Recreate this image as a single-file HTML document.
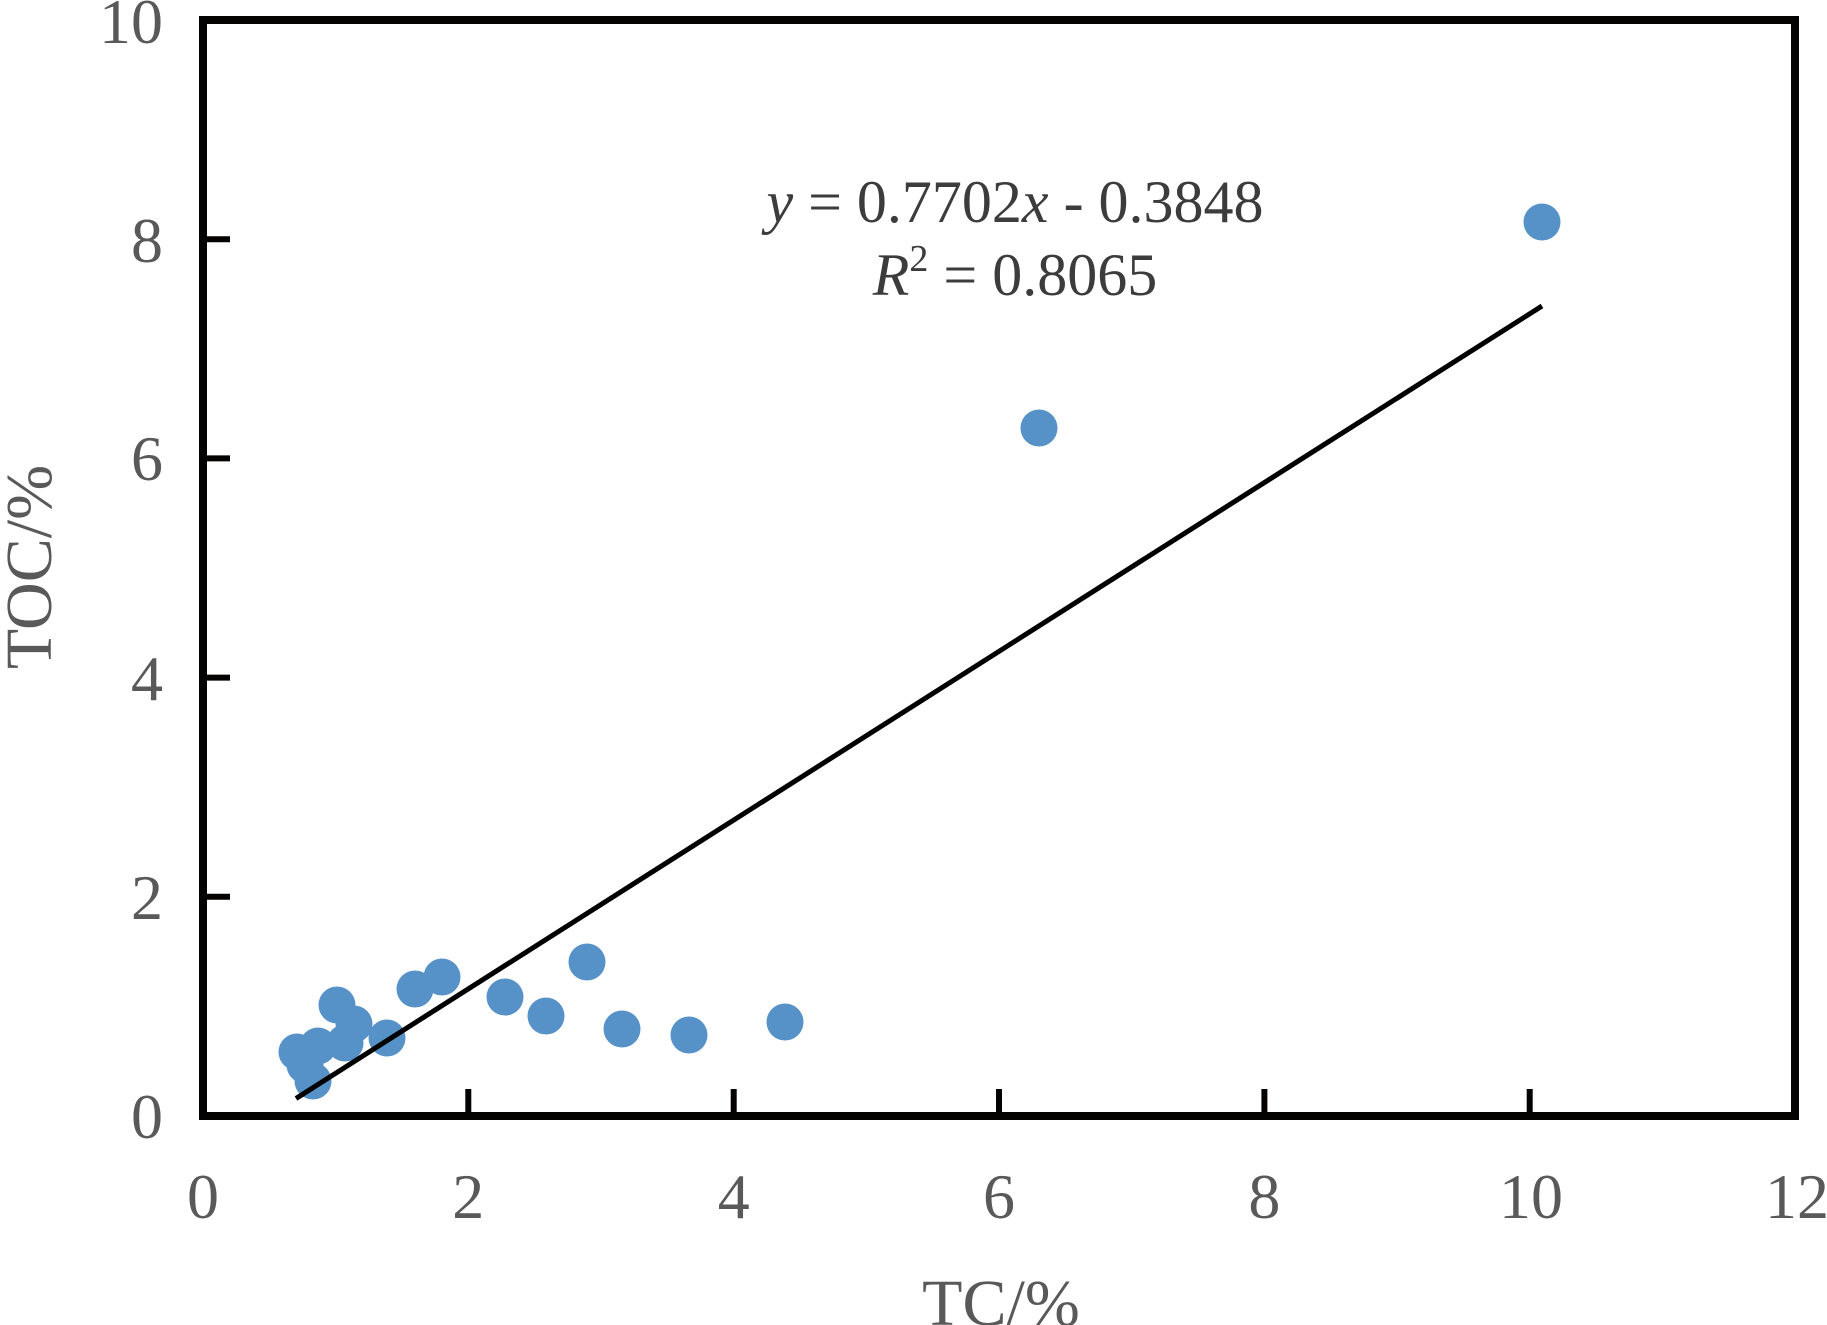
<!DOCTYPE html>
<html>
<head>
<meta charset="utf-8">
<style>
  html, body { margin: 0; padding: 0; background: #ffffff; }
  svg { display: block; }
  .tick { font-family: "Liberation Serif", serif; font-size: 64px; fill: #595959; }
  .title { font-family: "Liberation Serif", serif; font-size: 66px; fill: #595959; }
  .eq { font-family: "Liberation Serif", serif; font-size: 60px; fill: #3c3c3c; }
</style>
</head>
<body>
<svg width="1827" height="1325" viewBox="0 0 1827 1325" xmlns="http://www.w3.org/2000/svg">
  <rect x="0" y="0" width="1827" height="1325" fill="#ffffff"/>

  <!-- markers -->
  <g fill="#5692c8">
    <circle cx="337" cy="1005" r="18.5"/>
    <circle cx="354" cy="1024" r="18.5"/>
    <circle cx="387" cy="1038" r="18.5"/>
    <circle cx="297" cy="1052" r="18.5"/>
    <circle cx="318" cy="1046" r="18.5"/>
    <circle cx="345" cy="1043" r="18.5"/>
    <circle cx="313" cy="1081" r="18.5"/>
    <circle cx="305" cy="1065" r="18.5"/>
    <circle cx="415" cy="989" r="18.5"/>
    <circle cx="442" cy="977" r="18.5"/>
    <circle cx="505" cy="997" r="18.5"/>
    <circle cx="546" cy="1016" r="18.5"/>
    <circle cx="587" cy="962" r="18.5"/>
    <circle cx="622" cy="1029" r="18.5"/>
    <circle cx="689" cy="1035" r="18.5"/>
    <circle cx="785" cy="1022" r="18.5"/>
    <circle cx="1039" cy="428" r="18.5"/>
    <circle cx="1542" cy="222" r="18.5"/>
  </g>

  <!-- trend line -->
  <line x1="296" y1="1098.5" x2="1542" y2="306" stroke="#000000" stroke-width="5"/>

  <!-- frame -->
  <rect x="203" y="20" width="1592" height="1096" fill="none" stroke="#050202" stroke-width="8"/>

  <!-- y ticks -->
  <g stroke="#050202" stroke-width="6">
    <line x1="207" y1="896.8" x2="230" y2="896.8"/>
    <line x1="207" y1="677.6" x2="230" y2="677.6"/>
    <line x1="207" y1="458.4" x2="230" y2="458.4"/>
    <line x1="207" y1="239.2" x2="230" y2="239.2"/>
  </g>
  <!-- x ticks -->
  <g stroke="#050202" stroke-width="6">
    <line x1="468.3" y1="1112" x2="468.3" y2="1089"/>
    <line x1="733.7" y1="1112" x2="733.7" y2="1089"/>
    <line x1="999" y1="1112" x2="999" y2="1089"/>
    <line x1="1264.4" y1="1112" x2="1264.4" y2="1089"/>
    <line x1="1529.7" y1="1112" x2="1529.7" y2="1089"/>
  </g>

  <!-- y tick labels -->
  <g class="tick" text-anchor="end">
    <text x="163" y="1138">0</text>
    <text x="163" y="919">2</text>
    <text x="163" y="700">4</text>
    <text x="163" y="480">6</text>
    <text x="163" y="262">8</text>
    <text x="163" y="43">10</text>
  </g>

  <!-- x tick labels -->
  <g class="tick" text-anchor="middle">
    <text x="203" y="1218">0</text>
    <text x="468.3" y="1218">2</text>
    <text x="733.7" y="1218">4</text>
    <text x="999" y="1218">6</text>
    <text x="1264.4" y="1218">8</text>
    <text x="1531" y="1218">10</text>
    <text x="1797" y="1218">12</text>
  </g>

  <!-- axis titles -->
  <text class="title" x="1001" y="1325" text-anchor="middle">TC/%</text>
  <text class="title" x="0" y="0" text-anchor="middle" transform="translate(51,567) rotate(-90)">TOC/%</text>

  <!-- equation -->
  <text class="eq" x="1015" y="222" text-anchor="middle"><tspan font-style="italic">y</tspan> = 0.7702<tspan font-style="italic">x</tspan> - 0.3848</text>
  <text class="eq" x="1015" y="295" text-anchor="middle"><tspan font-style="italic">R</tspan><tspan font-size="38" dy="-24">2</tspan><tspan dy="24"> = 0.8065</tspan></text>
</svg>
</body>
</html>
